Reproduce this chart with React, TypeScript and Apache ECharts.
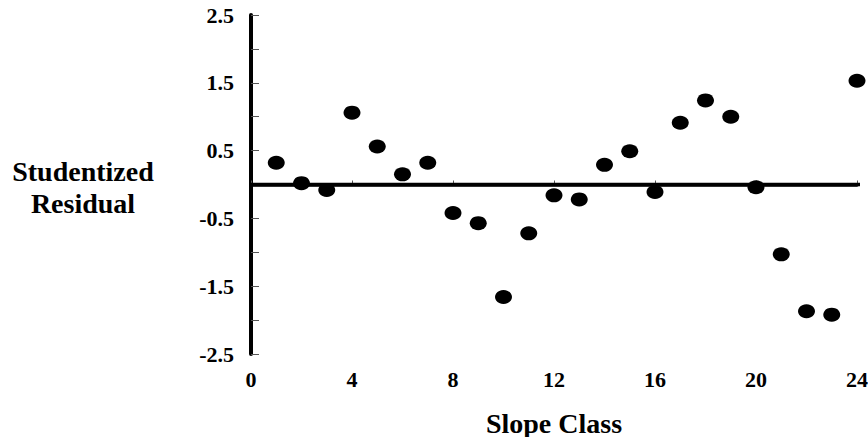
import React, { useEffect, useRef } from "react";
import * as echarts from "echarts";

const slopeClass = [1, 2, 3, 4, 5, 6, 7, 8, 9, 10, 11, 12, 13, 14, 15, 16, 17, 18, 19, 20, 21, 22, 23, 24];
const residuals = [0.32, 0.02, -0.08, 1.06, 0.56, 0.15, 0.32, -0.42, -0.57, -1.66, -0.72, -0.16, -0.22, 0.29, 0.49, -0.11, 0.91, 1.24, 1.0, -0.04, -1.03, -1.87, -1.92, 1.53];
const zeroLineX = [0, 24.45];
const xTicks = [0, 4, 8, 12, 16, 20, 24];
const yLabelValues = [-2.5, -1.5, -0.5, 0.5, 1.5, 2.5];

const FONT = "'Liberation Serif', 'Times New Roman', serif";

export default function App() {
  const ref = useRef<HTMLDivElement>(null);
  useEffect(() => {
    if (!ref.current) return;
    const chart = echarts.init(ref.current, undefined, { renderer: "svg" });
    chart.setOption({
      animation: false,
      backgroundColor: "#ffffff",
      grid: { left: 251, right: 11, top: 15, bottom: 83, containLabel: false, outerBoundsMode: "none" },
      xAxis: {
        type: "value",
        min: 0,
        max: 24,
        interval: 4,
        name: "Slope Class",
        nameLocation: "middle",
        nameGap: 55,
        nameTextStyle: { fontFamily: FONT, fontWeight: "bold", fontSize: 28, color: "#000" },
        axisLine: { show: true, lineStyle: { color: "#000", width: 3.5 } },
        axisTick: { show: true, inside: true, length: 4, lineStyle: { color: "#555", width: 1 } },
        axisLabel: {
          margin: 14,
          fontFamily: FONT,
          fontWeight: "bold",
          fontSize: 22,
          color: "#000",
          formatter: (v: number) => (xTicks.includes(v) ? String(v) : ""),
        },
        splitLine: { show: false },
      },
      yAxis: {
        type: "value",
        min: -2.5,
        max: 2.5,
        interval: 0.5,
        axisLine: { show: true, onZero: false, lineStyle: { color: "#000", width: 4 } },
        axisTick: { show: true, inside: true, length: 8, lineStyle: { color: "#555", width: 1 } },
        axisLabel: {
          margin: 17,
          fontFamily: FONT,
          fontWeight: "bold",
          fontSize: 22,
          color: "#000",
          formatter: (v: number) => {
            const r = Math.round(v * 10) / 10;
            return yLabelValues.some((t) => Math.abs(t - r) < 1e-6) ? r.toFixed(1) : "";
          },
        },
        splitLine: { show: false },
      },
      graphic: [
        {
          type: "text",
          x: 83,
          y: 187,
          style: {
            text: "Studentized\nResidual",
            textAlign: "center",
            textVerticalAlign: "middle",
            fontFamily: FONT,
            fontWeight: "bold",
            fontSize: 28,
            lineHeight: 32,
            fill: "#000",
          },
        },
      ],
      series: [
        {
          type: "line",
          data: zeroLineX.map((x) => [x, 0]),
          symbol: "none",
          clip: false,
          lineStyle: { color: "#000", width: 3.5 },
          silent: true,
          z: 1,
        },
        {
          type: "scatter",
          data: slopeClass.map((x, i) => [x, residuals[i]]),
          symbol: "circle",
          symbolSize: [17, 14],
          itemStyle: { color: "#000", opacity: 1 },
          z: 2,
        },
      ],
    });
    return () => chart.dispose();
  }, []);
  return <div ref={ref} style={{ width: 868, height: 437, position: "absolute", left: 0, top: 0 }} />;
}
